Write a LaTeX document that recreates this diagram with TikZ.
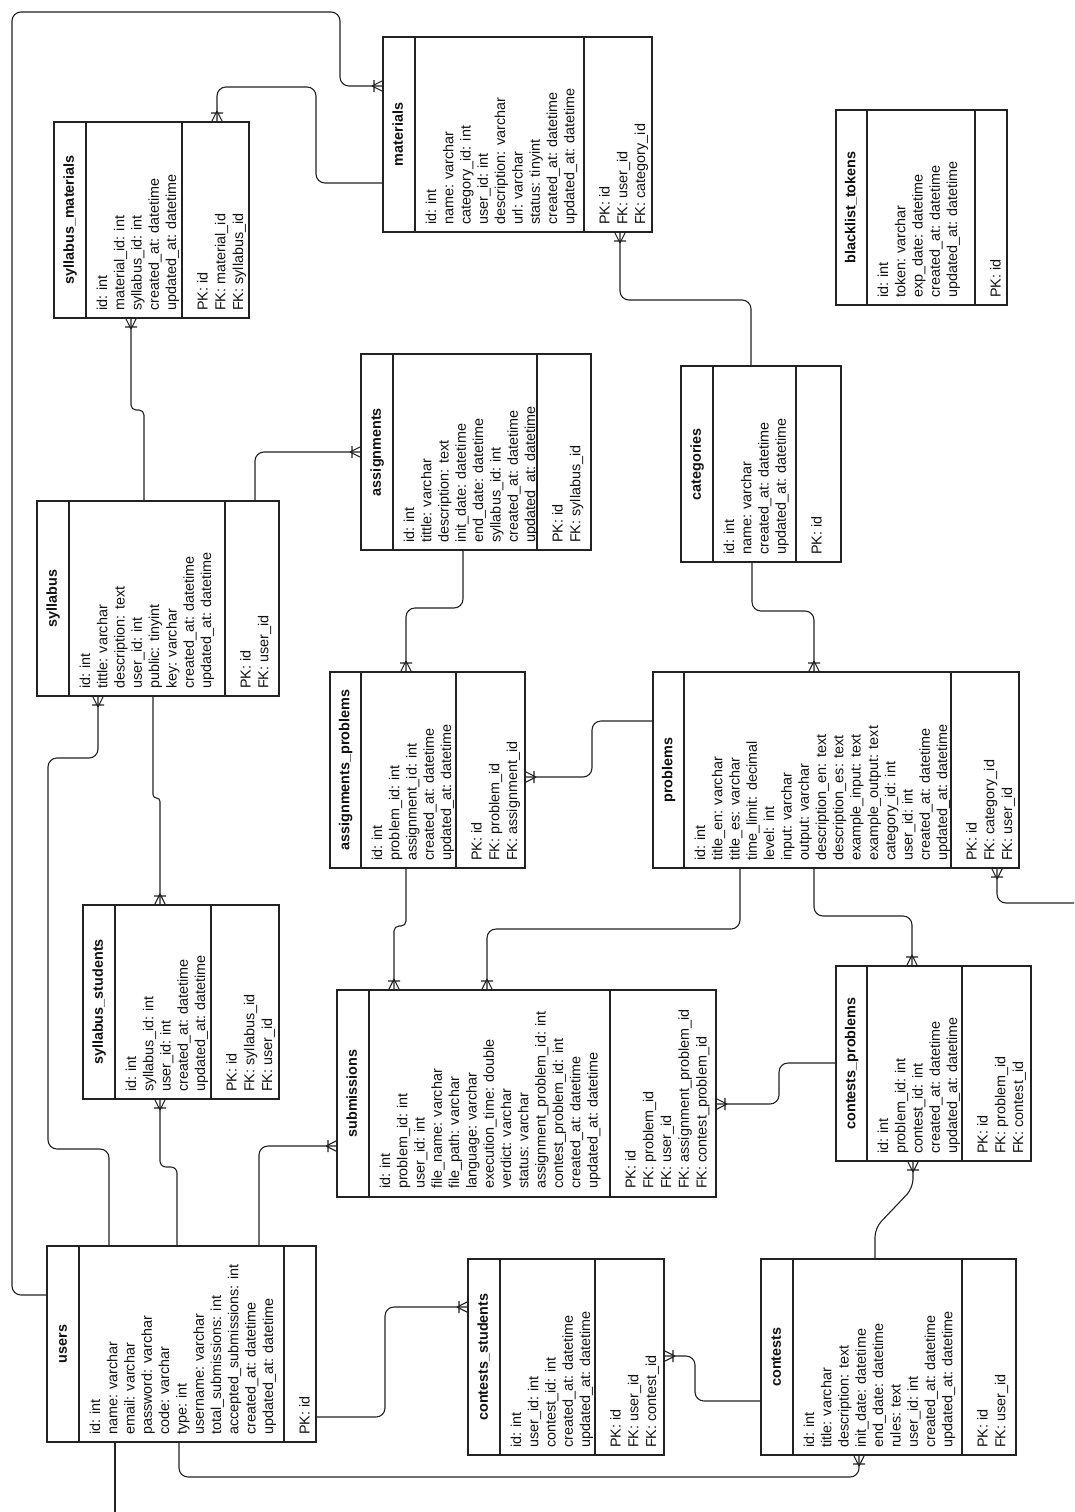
\documentclass[tikz,border=0pt]{standalone}
\usepackage{fontspec}
\setmainfont{Liberation Sans}
\usepackage{tikz}
\usetikzlibrary{fit, decorations.markings}
\definecolor{erline}{RGB}{34,34,34}
\definecolor{ertext}{RGB}{17,17,17}

\begin{document}
\begin{tikzpicture}[
  x=1pt, y=-1pt,
  tbl/.style={draw=erline, line width=1.3pt, inner sep=0pt, outer sep=0pt},
  div/.style={draw=erline, line width=1.3pt},
  ttl/.style={rotate=90, font=\fontsize{14.4}{17.3}\selectfont\bfseries, text=ertext,
              inner sep=0pt, text height=10.5pt, text depth=3pt},
  fld/.style={rotate=90, anchor=base west, font=\fontsize{14.4}{17.3}\selectfont,
              text=ertext, inner sep=0pt},
  link/.style={draw=erline, line width=1.1pt, rounded corners=9pt},
  rel/.style={link, postaction={decorate, decoration={markings, mark=at position 1 with {
      \draw[erline, line width=1.1pt, sharp corners] (-11,0) -- (0,5.5) (-11,0) -- (0,-5.5) (-9,-6) -- (-9,6);}}}},
  jog/.style={rounded corners=#1},
]
  \useasboundingbox (0,0) rectangle (1074,1512);
  \fill[white] (0,0) rectangle (1074,1512);

  % Tables
  % materials
  \node[tbl, fit={(383,37) (652,232)}] (mat) {};
  \draw[div] (mat.north -| 415,0) -- (mat.south -| 415,0) (mat.north -| 584,0) -- (mat.south -| 584,0);
  \node[ttl] (mat-t) at (399,134.5) {materials};
  \foreach \txt [count=\n from 0] in {id: int, name: varchar, category\_id: int, user\_id: int, description: varchar, url: varchar, status: tinyint, created\_at: datetime, updated\_at: datetime}
    \node[fld] (mat-f\n) at (436+17.3*\n,225) {\txt};
  \foreach \txt [count=\n from 0] in {PK: id, FK: user\_id, FK: category\_id}
    \node[fld] (mat-k\n) at (609.5+17.8*\n,225) {\txt};

  % syllabus_materials
  \node[tbl, fit={(54,122) (249,318)}] (sylmat) {};
  \draw[div] (sylmat.north -| 86,0) -- (sylmat.south -| 86,0) (sylmat.north -| 182,0) -- (sylmat.south -| 182,0);
  \node[ttl] (sylmat-t) at (70,220) {syllabus\_materials};
  \foreach \txt [count=\n from 0] in {id: int, material\_id: int, syllabus\_id: int, created\_at: datetime, updated\_at: datetime}
    \node[fld] (sylmat-f\n) at (107+17.3*\n,311) {\txt};
  \foreach \txt [count=\n from 0] in {PK: id, FK: material\_id, FK: syllabus\_id}
    \node[fld] (sylmat-k\n) at (207.5+17.8*\n,311) {\txt};

  % blacklist_tokens
  \node[tbl, fit={(836,110) (1007,305)}] (blk) {};
  \draw[div] (blk.north -| 867,0) -- (blk.south -| 867,0) (blk.north -| 975,0) -- (blk.south -| 975,0);
  \node[ttl] (blk-t) at (851.5,207.5) {blacklist\_tokens};
  \foreach \txt [count=\n from 0] in {id: int, token: varchar, exp\_date: datetime, created\_at: datetime, updated\_at: datetime}
    \node[fld] (blk-f\n) at (888+17.3*\n,298) {\txt};
  \node[fld] (blk-k0) at (1000.5,298) {PK: id};

  % assignments
  \node[tbl, fit={(361,354) (591,550)}] (asg) {};
  \draw[div] (asg.north -| 393,0) -- (asg.south -| 393,0) (asg.north -| 537,0) -- (asg.south -| 537,0);
  \node[ttl] (asg-t) at (377,452) {assignments};
  \foreach \txt [count=\n from 0] in {id: int, tittle: varchar, description: text, init\_date: datetime, end\_date: datetime, syllabus\_id: int, created\_at: datetime, updated\_at: datetime}
    \node[fld] (asg-f\n) at (414+17.3*\n,543) {\txt};
  \foreach \txt [count=\n from 0] in {PK: id, FK: syllabus\_id}
    \node[fld] (asg-k\n) at (562.5+17.8*\n,543) {\txt};

  % categories
  \node[tbl, fit={(681,366) (841,562)}] (cat) {};
  \draw[div] (cat.north -| 713,0) -- (cat.south -| 713,0) (cat.north -| 796,0) -- (cat.south -| 796,0);
  \node[ttl] (cat-t) at (697,464) {categories};
  \foreach \txt [count=\n from 0] in {id: int, name: varchar, created\_at: datetime, updated\_at: datetime}
    \node[fld] (cat-f\n) at (734+17.3*\n,555) {\txt};
  \node[fld] (cat-k0) at (821.5,555) {PK: id};

  % syllabus
  \node[tbl, fit={(37,501) (279,696)}] (syl) {};
  \draw[div] (syl.north -| 69,0) -- (syl.south -| 69,0) (syl.north -| 225,0) -- (syl.south -| 225,0);
  \node[ttl] (syl-t) at (53,598.5) {syllabus};
  \foreach \txt [count=\n from 0] in {id: int, tittle: varchar, description: text, user\_id: int, public: tinyint, key: varchar, created\_at: datetime, updated\_at: datetime}
    \node[fld] (syl-f\n) at (90+17.3*\n,689) {\txt};
  \foreach \txt [count=\n from 0] in {PK: id, FK: user\_id}
    \node[fld] (syl-k\n) at (250.5+17.8*\n,689) {\txt};

  % assignments_problems
  \node[tbl, fit={(330,672) (525,868)}] (asgprob) {};
  \draw[div] (asgprob.north -| 361,0) -- (asgprob.south -| 361,0) (asgprob.north -| 456,0) -- (asgprob.south -| 456,0);
  \node[ttl] (asgprob-t) at (345.5,770) {assignments\_problems};
  \foreach \txt [count=\n from 0] in {id: int, problem\_id: int, assignment\_id: int, created\_at: datetime, updated\_at: datetime}
    \node[fld] (asgprob-f\n) at (382+17.3*\n,861) {\txt};
  \foreach \txt [count=\n from 0] in {PK: id, FK: problem\_id, FK: assignment\_id}
    \node[fld] (asgprob-k\n) at (481.5+17.8*\n,861) {\txt};

  % problems
  \node[tbl, fit={(653,672) (1019,868)}] (prob) {};
  \draw[div] (prob.north -| 684,0) -- (prob.south -| 684,0) (prob.north -| 951,0) -- (prob.south -| 951,0);
  \node[ttl] (prob-t) at (668.5,770) {problems};
  \foreach \txt [count=\n from 0] in {id: int, title\_en: varchar, title\_es: varchar, time\_limit: decimal, level: int, input: varchar, output: varchar, description\_en: text, description\_es: text, example\_input: text, example\_output: text, category\_id: int, user\_id: int, created\_at: datetime, updated\_at: datetime}
    \node[fld] (prob-f\n) at (705+17.3*\n,861) {\txt};
  \foreach \txt [count=\n from 0] in {PK: id, FK: category\_id, FK: user\_id}
    \node[fld] (prob-k\n) at (976.5+17.8*\n,861) {\txt};

  % syllabus_students
  \node[tbl, fit={(83,905) (279,1099)}] (sylstu) {};
  \draw[div] (sylstu.north -| 115,0) -- (sylstu.south -| 115,0) (sylstu.north -| 211,0) -- (sylstu.south -| 211,0);
  \node[ttl] (sylstu-t) at (99,1002) {syllabus\_students};
  \foreach \txt [count=\n from 0] in {id: int, syllabus\_id: int, user\_id: int, created\_at: datetime, updated\_at: datetime}
    \node[fld] (sylstu-f\n) at (136+17.3*\n,1092) {\txt};
  \foreach \txt [count=\n from 0] in {PK: id, FK: syllabus\_id, FK: user\_id}
    \node[fld] (sylstu-k\n) at (236.5+17.8*\n,1092) {\txt};

  % submissions
  \node[tbl, fit={(337,990) (716,1197)}] (sub) {};
  \draw[div] (sub.north -| 369,0) -- (sub.south -| 369,0) (sub.north -| 610,0) -- (sub.south -| 610,0);
  \node[ttl] (sub-t) at (353,1093.5) {submissions};
  \foreach \txt [count=\n from 0] in {id: int, problem\_id: int, user\_id: int, file\_name: varchar, file\_path: varchar, language: varchar, execution\_time: double, verdict: varchar, status: varchar, assignment\_problem\_id: int, contest\_problem\_id: int, created\_at: datetime, updated\_at: datetime}
    \node[fld] (sub-f\n) at (390+17.3*\n,1189) {\txt};
  \foreach \txt [count=\n from 0] in {PK: id, FK: problem\_id, FK: user\_id, FK: assignment\_problem\_id, FK: contest\_problem\_id}
    \node[fld] (sub-k\n) at (635.5+17.8*\n,1189) {\txt};

  % contests_problems
  \node[tbl, fit={(836,966) (1031,1161)}] (conprob) {};
  \draw[div] (conprob.north -| 867,0) -- (conprob.south -| 867,0) (conprob.north -| 962,0) -- (conprob.south -| 962,0);
  \node[ttl] (conprob-t) at (851.5,1063.5) {contests\_problems};
  \foreach \txt [count=\n from 0] in {id: int, problem\_id: int, contest\_id: int, created\_at: datetime, updated\_at: datetime}
    \node[fld] (conprob-f\n) at (888+17.3*\n,1154) {\txt};
  \foreach \txt [count=\n from 0] in {PK: id, FK: problem\_id, FK: contest\_id}
    \node[fld] (conprob-k\n) at (987.5+17.8*\n,1154) {\txt};

  % users
  \node[tbl, fit={(47,1246) (316,1442)}] (users) {};
  \draw[div] (users.north -| 79,0) -- (users.south -| 79,0) (users.north -| 284,0) -- (users.south -| 284,0);
  \node[ttl] (users-t) at (63,1344) {users};
  \foreach \txt [count=\n from 0] in {id: int, name: varchar, email: varchar, password: varchar, code: varchar, type: int, username: varchar, total\_submissions: int, accepted\_submissions: int, created\_at: datetime, updated\_at: datetime}
    \node[fld] (users-f\n) at (100+17.3*\n,1435) {\txt};
  \node[fld] (users-k0) at (309.5,1435) {PK: id};

  % contests_students
  \node[tbl, fit={(468,1259) (664,1455)}] (constu) {};
  \draw[div] (constu.north -| 500,0) -- (constu.south -| 500,0) (constu.north -| 595,0) -- (constu.south -| 595,0);
  \node[ttl] (constu-t) at (484,1357) {contests\_students};
  \foreach \txt [count=\n from 0] in {id: int, user\_id: int, contest\_id: int, created\_at: datetime, updated\_at: datetime}
    \node[fld] (constu-f\n) at (521+17.3*\n,1448) {\txt};
  \foreach \txt [count=\n from 0] in {PK: id, FK: user\_id, FK: contest\_id}
    \node[fld] (constu-k\n) at (620.5+17.8*\n,1448) {\txt};

  % contests
  \node[tbl, fit={(761,1259) (1016,1455)}] (con) {};
  \draw[div] (con.north -| 793,0) -- (con.south -| 793,0) (con.north -| 962,0) -- (con.south -| 962,0);
  \node[ttl] (con-t) at (777,1357) {contests};
  \foreach \txt [count=\n from 0] in {id: int, title: varchar, description: text, init\_date: datetime, end\_date: datetime, rules: text, user\_id: int, created\_at: datetime, updated\_at: datetime}
    \node[fld] (con-f\n) at (814+17.3*\n,1448) {\txt};
  \foreach \txt [count=\n from 0] in {PK: id, FK: user\_id}
    \node[fld] (con-k\n) at (987.5+17.8*\n,1448) {\txt};

  % Relations
  \coordinate (offbottom) at (115,1512);
  \coordinate (offright) at (1074,903);

  \draw[rel] (users.west |- 0,1295) -| (12,12) -| (340,86) -- (mat.west |- 0,86);
  \draw[rel] (mat.west |- 0,183) -| (316,87) -| (sylmat.north -| 217,0);
  \draw[rel] (cat.north -| 751,0) |- (620,300) -- (mat.south -| 620,0);
  \draw[rel, jog=5pt] (syl.north -| 144,0) |- (131,410) -- (sylmat.south -| 131,0);
  \draw[rel] (syl.north -| 255,0) |- (asg.west |- 0,452);
  \draw[rel] (asg.south -| 463,0) |- (406,608) -- (asgprob.north -| 406,0);
  \draw[rel] (cat.south -| 752,0) |- (814,611) -- (prob.north -| 814,0);
  \draw[rel] (prob.west |- 0,721) -| (592,777) -- (asgprob.east |- 0,777);
  \draw[rel, jog=3.5pt] (syl.south -| 153,0) |- (160,798) -- (sylstu.north -| 160,0);
  \draw[rel] (users.north -| 109,0) |- (48,1149) |- (98,758) -- (syl.south -| 98,0);
  \draw[rel, jog=6pt] (users.north -| 177,0) |- (160,1167) -- (sylstu.south -| 160,0);
  \draw[rel] (users.north -| 259,0) |- (sub.west |- 0,1146);
  \draw[rel, jog=5pt] (asgprob.south -| 406,0) |- (394,926) -- (sub.north -| 394,0);
  \draw[rel] (prob.south -| 740,0) |- (487,929) -- (sub.north -| 487,0);
  \draw[rel] (prob.south -| 814,0) |- (912,916) -- (conprob.north -| 912,0);
  \draw[rel] (conprob.west |- 0,1063) -| (779,1104) -- (sub.east |- 0,1104);
  \draw[link] (users.south -| 115,0) -- (offbottom);
  \draw[rel] (offright) -| (prob.south -| 997,0);
  \draw[rel] (users.south -| 179,0) |- (859,1477) -- (con.south -| 859,0);
  \draw[rel] (users.east |- 0,1417) -| (385,1307) -- (constu.west |- 0,1307);
  \draw[rel] (con.west |- 0,1401) -| (695,1356) -- (constu.east |- 0,1356);
  \draw[rel] (con.north -| 875,0) -- (875,1228) -- (913,1188) -- (conprob.south -| 913,0);
\end{tikzpicture}
\end{document}
